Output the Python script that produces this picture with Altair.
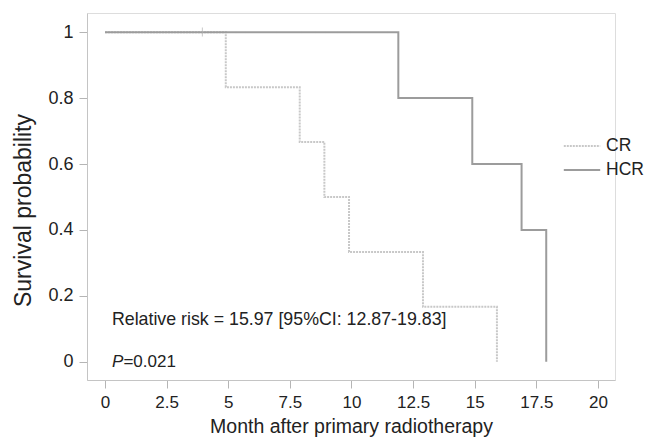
import altair as alt
import pandas as pd

# Kaplan-Meier step data
cr_time = [0, 4.9, 7.9, 8.9, 9.9, 12.9, 15.9]
cr_surv = [1.0, 0.833, 0.667, 0.5, 0.333, 0.167, 0.0]
hcr_time = [0, 11.9, 14.9, 16.9, 17.9]
hcr_surv = [1.0, 0.8, 0.6, 0.4, 0.0]
censor_time = [3.95]
censor_surv = [1.0]
groups = ["CR", "HCR"]

x_ticks = [0, 2.5, 5, 7.5, 10, 12.5, 15, 17.5, 20]
y_ticks = [0, 0.1, 0.2, 0.3, 0.4, 0.5, 0.6, 0.7, 0.8, 0.9, 1.0]

annot_rr = "Relative risk = 15.97 [95%CI: 12.87-19.83]"
annot_p_label = "P"
annot_p_value = "=0.021"

df = pd.concat([
    pd.DataFrame({"time": cr_time, "surv": cr_surv, "group": "CR"}),
    pd.DataFrame({"time": hcr_time, "surv": hcr_surv, "group": "HCR"}),
])
cens = pd.DataFrame({"time": censor_time, "surv": censor_surv})

FONT = "Liberation Sans"
xdom = [-0.73, 20.69]
ydom = [-0.055, 1.058]

xscale = alt.Scale(domain=xdom, nice=False, zero=False)
yscale = alt.Scale(domain=ydom, nice=False, zero=False)

x_axis = alt.Axis(values=x_ticks, format=".4~g", grid=False, tickSize=8,
                  tickColor="#b5b5b5", domainColor="#c4c4c4", labelColor="#222222",
                  labelFontSize=17, labelFont=FONT, labelPadding=6,
                  title="Month after primary radiotherapy", titleFont=FONT,
                  titleFontSize=19.5, titleFontWeight="normal", titleColor="#222222",
                  titlePadding=7)
y_axis = alt.Axis(values=y_ticks, format=".2~g", grid=False, tickSize=8,
                  labelExpr="(round(datum.value*10) % 2 == 0) ? datum.label : ''",
                  tickColor="#b5b5b5", domainColor="#c4c4c4", labelColor="#222222",
                  labelFontSize=18, labelFont=FONT, labelPadding=6,
                  title="Survival probability", titleFont=FONT,
                  titleFontSize=23, titleFontWeight="normal", titleColor="#222222",
                  titleX=-64, titleY=197, titleBaseline="middle")

legend = alt.Legend(title=None, orient="none", legendX=480, legendY=118,
                    padding=0, symbolType="M-1.3,0H1.3", symbolSize=784,
                    symbolStrokeWidth=2, symbolStrokeColor="#444444",
                    labelFontSize=17.5, labelFont=FONT, labelColor="#222222",
                    labelOffset=9, rowPadding=0)

lines = alt.Chart(df).mark_line(interpolate="step-after", strokeWidth=2).encode(
    x=alt.X("time:Q", scale=xscale, axis=x_axis),
    y=alt.Y("surv:Q", scale=yscale, axis=y_axis),
    color=alt.Color("group:N", scale=alt.Scale(domain=groups, range=["#c8c8c8", "#9c9c9c"]),
                    legend=legend),
    strokeDash=alt.StrokeDash("group:N", scale=alt.Scale(domain=groups, range=[[2, 1], [1, 0]]),
                              legend=legend),
)

censor = alt.Chart(cens).mark_tick(orient="vertical", size=9, thickness=1, color="#b0b0b0").encode(
    x=alt.X("time:Q", scale=xscale),
    y=alt.Y("surv:Q", scale=yscale),
)

ann = pd.DataFrame({"time": [0.28], "rr_y": [0.127], "p_y": [0.0],
                    "rr": [annot_rr], "p": [annot_p_label], "pv": [annot_p_value]})

rr_text = alt.Chart(ann).mark_text(align="left", baseline="middle", fontSize=17.8, font=FONT,
                                   color="#222222").encode(
    x=alt.X("time:Q", scale=xscale), y=alt.Y("rr_y:Q", scale=yscale), text="rr:N")
p_text = alt.Chart(ann).mark_text(align="left", baseline="middle", fontSize=17, font=FONT,
                                  fontStyle="italic", color="#222222").encode(
    x=alt.X("time:Q", scale=xscale), y=alt.Y("p_y:Q", scale=yscale), text="p:N")
pv_text = alt.Chart(ann).mark_text(align="left", baseline="middle", fontSize=17, font=FONT,
                                   dx=11.5, color="#222222").encode(
    x=alt.X("time:Q", scale=xscale), y=alt.Y("p_y:Q", scale=yscale), text="pv:N")

chart = alt.layer(lines, censor, rr_text, p_text, pv_text).properties(
    width=528, height=367,
    autosize=alt.AutoSizeParams(type="none"),
    padding={"left": 79, "top": 5, "right": 30, "bottom": 60},
).configure_view(stroke=None).configure(background="white")

chart.save("out.html", embed_options={"renderer": "svg", "actions": False})
